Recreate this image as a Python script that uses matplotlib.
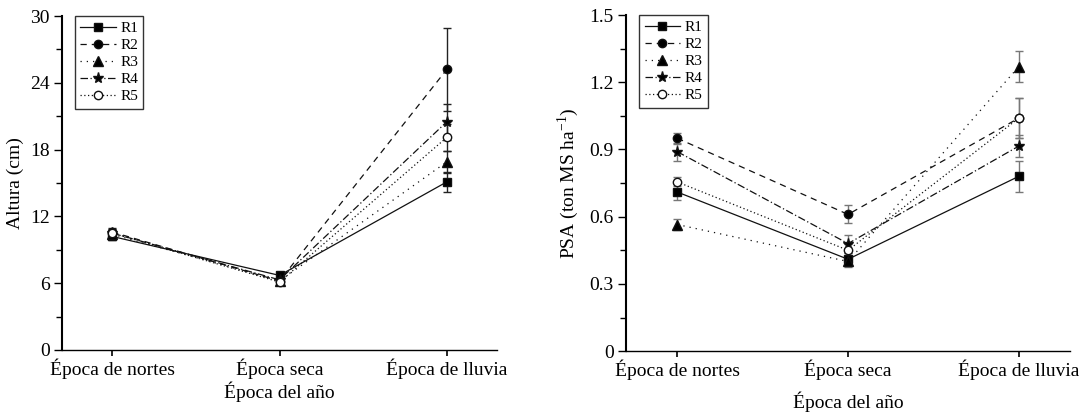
import matplotlib
matplotlib.use("Agg")
import matplotlib.pyplot as plt
from matplotlib.ticker import MultipleLocator

plt.rcParams['font.family'] = ['Liberation Serif', 'DejaVu Serif']
plt.rcParams['mathtext.fontset'] = 'custom'
plt.rcParams['mathtext.rm'] = 'Liberation Serif'

categories = ["Época de nortes", "Época seca", "Época de lluvia"]
series = ["R1", "R2", "R3", "R4", "R5"]

altura = {
    "R1": [10.2, 6.7, 15.1],
    "R2": [10.6, 6.2, 25.2],
    "R3": [10.4, 6.2, 16.9],
    "R4": [10.5, 6.3, 20.5],
    "R5": [10.5, 6.1, 19.1],
}
altura_err = {
    "R1": [0.3, 0.3, 0.9],
    "R2": [0.4, 0.3, 3.7],
    "R3": [0.3, 0.3, 1.0],
    "R4": [0.4, 0.3, 1.6],
    "R5": [0.3, 0.3, 1.2],
}
psa = {
    "R1": [0.71, 0.41, 0.78],
    "R2": [0.95, 0.61, 1.04],
    "R3": [0.565, 0.40, 1.27],
    "R4": [0.89, 0.48, 0.915],
    "R5": [0.755, 0.45, 1.04],
}
psa_err = {
    "R1": [0.035, 0.03, 0.07],
    "R2": [0.025, 0.04, 0.09],
    "R3": [0.025, 0.025, 0.07],
    "R4": [0.04, 0.04, 0.05],
    "R5": [0.02, 0.03, 0.09],
}

styles = {
    "R1": dict(ls='-', marker='s', mfc='black'),
    "R2": dict(ls=(0, (5, 4)), marker='o', mfc='black'),
    "R3": dict(ls=(0, (1, 4)), marker='^', mfc='black'),
    "R4": dict(ls=(0, (6, 2, 1, 2)), marker='*', mfc='black'),
    "R5": dict(ls=(0, (1, 2)), marker='o', mfc='white'),
}
msizes = {"R1": 6, "R2": 6, "R3": 7, "R4": 8, "R5": 6}

fig = plt.figure(figsize=(10.79, 4.17), dpi=100)
ax1 = fig.add_axes([0.0575, 0.1607, 0.4031, 0.8009])
ax2 = fig.add_axes([0.5802, 0.158, 0.4115, 0.806])

x = list(range(len(categories)))
FS = 14

def draw(ax, data, err, ecolor):
    handles = []
    for s in series:
        st = styles[s]
        cont = ax.errorbar(x, data[s], yerr=err[s], color='#111111', lw=0.9,
                           ls=st['ls'], marker=st['marker'], mfc=st['mfc'],
                           mec='#111111', ms=msizes[s], ecolor=ecolor,
                           elinewidth=1.0, capsize=3, capthick=1.0, label=s)
        handles.append(cont.lines[0])
    ax.set_xlim(-0.3, 2.3)
    ax.set_xticks(x)
    ax.set_xticklabels(categories)
    for sp in ['top', 'right']:
        ax.spines[sp].set_visible(False)
    ax.spines['left'].set_linewidth(1.5)
    ax.spines['bottom'].set_linewidth(1.0)
    ax.tick_params(axis='y', labelsize=FS, direction='out', length=6, width=1, pad=3)
    ax.tick_params(axis='x', labelsize=FS, direction='out', length=4, width=1.2, pad=2)
    ax.tick_params(axis='y', which='minor', length=4, width=1)
    leg = ax.legend(handles, series, loc='upper left', bbox_to_anchor=(0.03, 1.0),
                    fontsize=11, frameon=True, fancybox=False, edgecolor='black',
                    handlelength=2.3, handletextpad=0.3, borderpad=0.35,
                    labelspacing=0.22, borderaxespad=0.0)
    leg.get_frame().set_linewidth(1.0)

draw(ax1, altura, altura_err, '#222222')
ax1.set_ylim(0, 30)
ax1.yaxis.set_major_locator(MultipleLocator(6))
ax1.yaxis.set_minor_locator(MultipleLocator(3))
ax1.set_ylabel("Altura (cm)", fontsize=FS, labelpad=4)
ax1.set_xlabel("Época del año", fontsize=FS, labelpad=2)

draw(ax2, psa, psa_err, '#777777')
ax2.set_ylim(0, 1.5)
ax2.yaxis.set_major_locator(MultipleLocator(0.3))
ax2.yaxis.set_minor_locator(MultipleLocator(0.15))
ax2.yaxis.set_major_formatter(plt.FuncFormatter(lambda v, p: "0" if abs(v) < 1e-9 else f"{v:.1f}"))
ax2.set_ylabel("PSA (ton MS ha$^{-1}$)", fontsize=FS, labelpad=6)
ax2.set_xlabel("Época del año", fontsize=FS, labelpad=8)

fig.savefig("out.png", dpi=100)
